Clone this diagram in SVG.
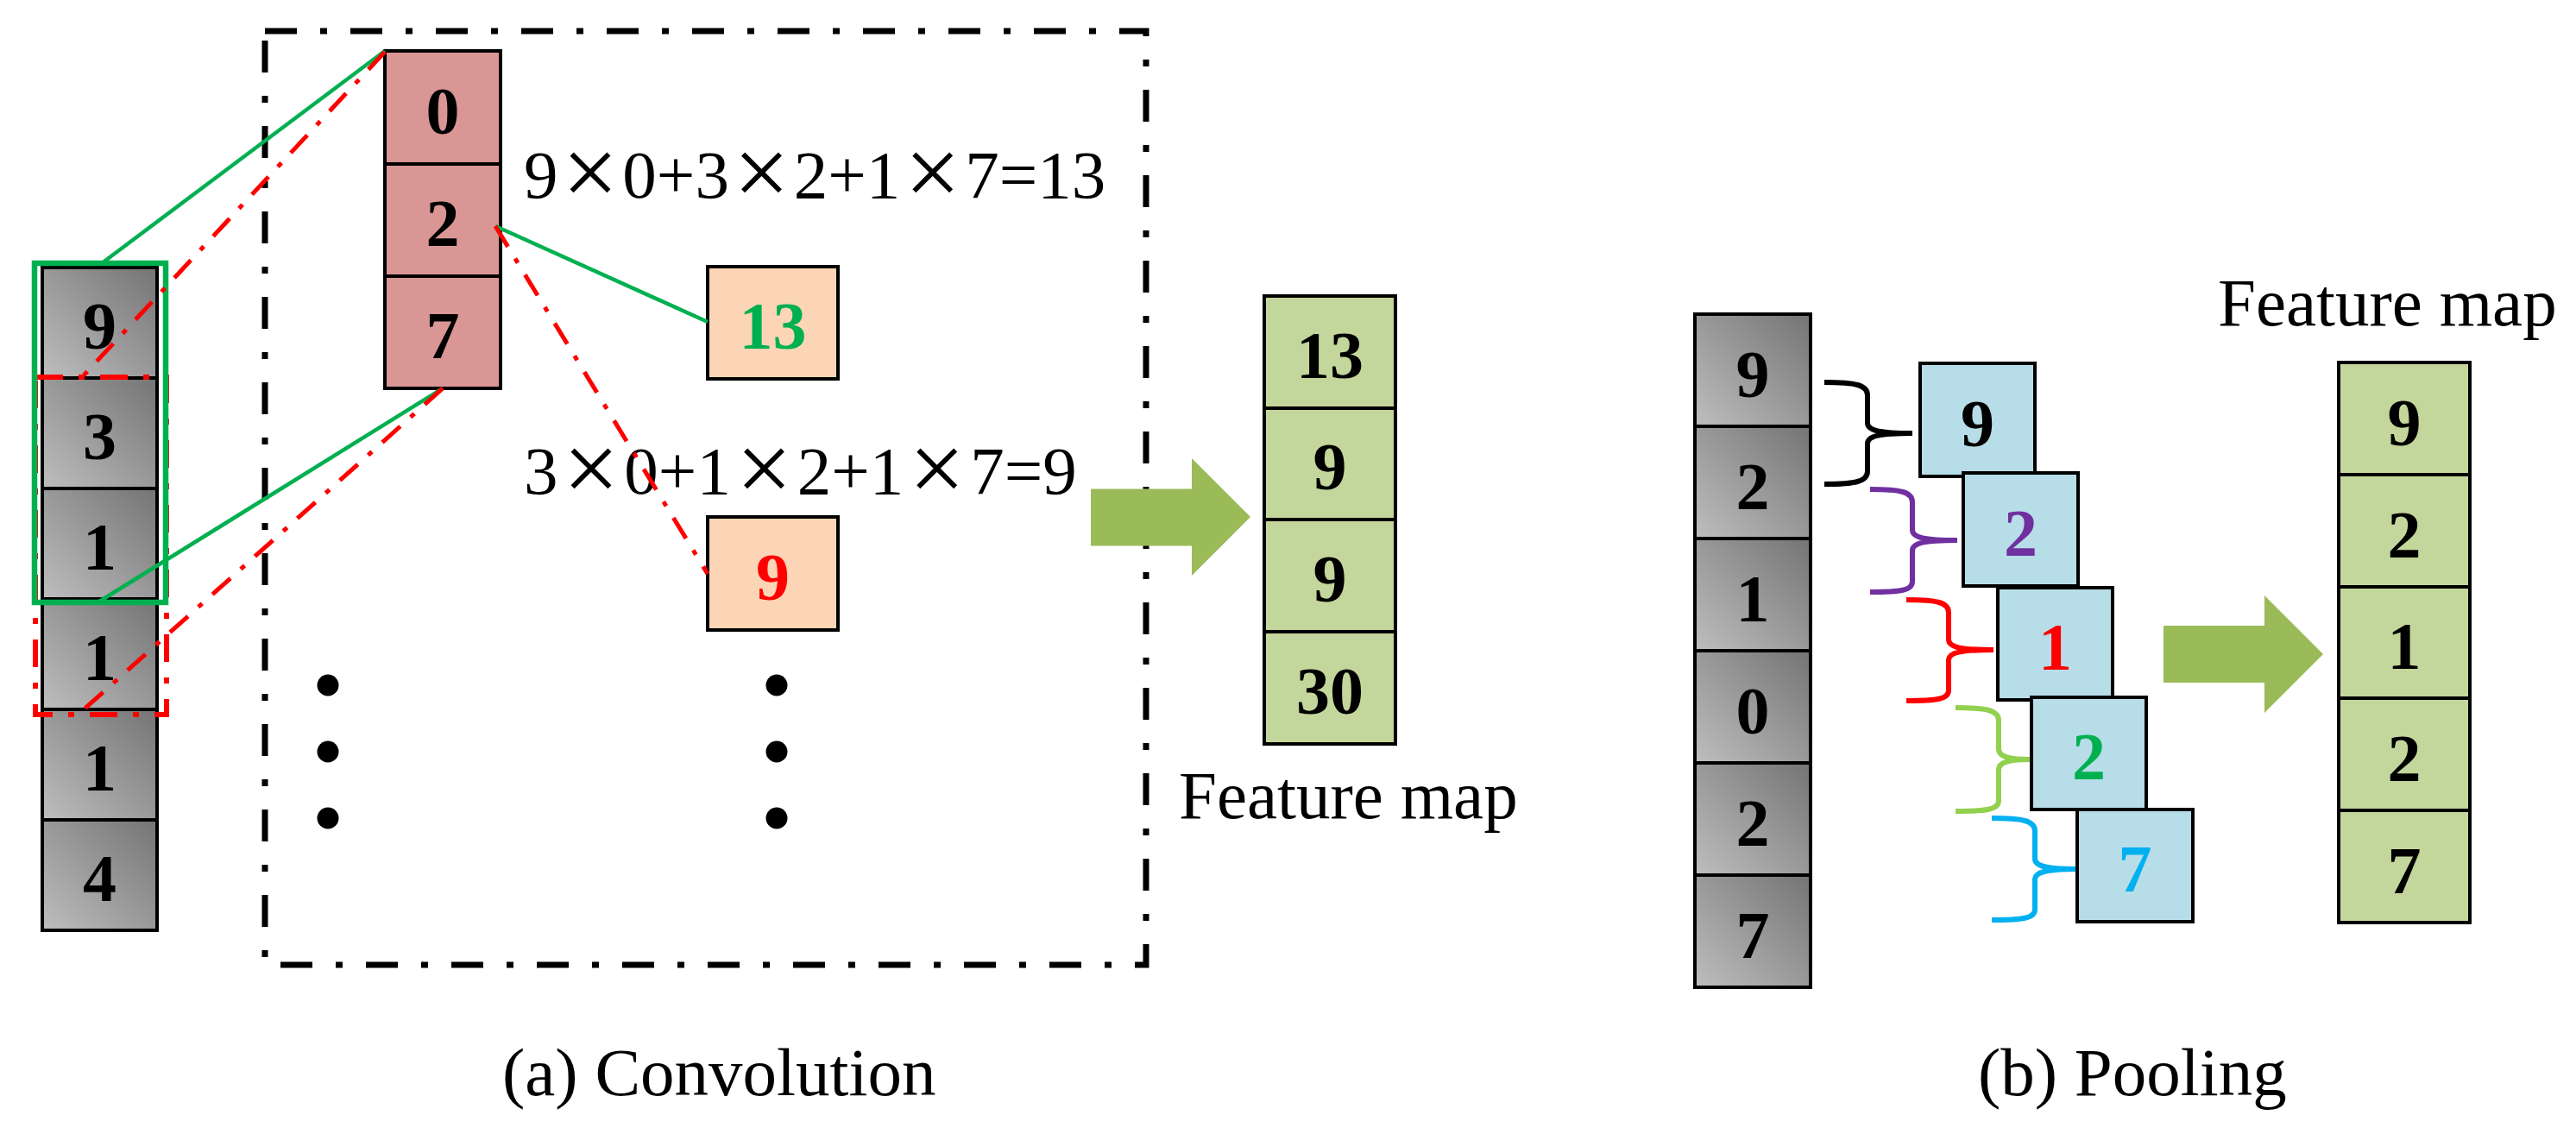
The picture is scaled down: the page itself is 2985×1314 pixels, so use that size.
<svg xmlns="http://www.w3.org/2000/svg" width="2985" height="1314" viewBox="0 0 2985 1314">
<defs>
<linearGradient id="gray" x1="0" y1="1" x2="1" y2="0">
<stop offset="0" stop-color="#BEBEBE"/>
<stop offset="1" stop-color="#747474"/>
</linearGradient>
</defs>
<style>
.cell{stroke:#000;stroke-width:4}
.g{fill:url(#gray)}
.pink{fill:#D99694}
.peach{fill:#FBD5B5}
.fm{fill:#C3D69B}
.blue{fill:#B7DDE8}
.num{font-family:"Liberation Serif","Times New Roman",serif;font-weight:bold;font-size:78px;text-anchor:middle}
.t{font-family:"Liberation Serif","Times New Roman",serif;font-size:79px;fill:#000}
.x{font-size:115px}
.gl{stroke:#00B050;stroke-width:4.5;fill:none}
.rl{stroke:#FF0000;stroke-width:5;fill:none;stroke-dasharray:28 16 6 16}
.brace{fill:none;stroke-width:6;stroke-linecap:butt;stroke-linejoin:round}
.arrow{fill:#9BBB59}
</style>

<rect id="conv-frame" x="307" y="36" width="1021" height="1082" fill="none" stroke="#000" stroke-width="7" stroke-dasharray="37 27 8 27"/>

<g id="input-conv">
<rect class="cell g" x="49" y="310" width="133" height="128"/>
<rect class="cell g" x="49" y="438" width="133" height="128"/>
<rect class="cell g" x="49" y="566" width="133" height="128"/>
<rect class="cell g" x="49" y="694" width="133" height="128"/>
<rect class="cell g" x="49" y="822" width="133" height="128"/>
<rect class="cell g" x="49" y="950" width="133" height="128"/>
<text class="num" x="115.5" y="404">9</text>
<text class="num" x="115.5" y="532">3</text>
<text class="num" x="115.5" y="660">1</text>
<text class="num" x="115.5" y="788">1</text>
<text class="num" x="115.5" y="916">1</text>
<text class="num" x="115.5" y="1044">4</text>
</g>

<g id="kernel">
<rect class="cell pink" x="446" y="59" width="134" height="131"/>
<rect class="cell pink" x="446" y="190" width="134" height="130"/>
<rect class="cell pink" x="446" y="320" width="134" height="130"/>
<text class="num" x="513" y="155">0</text>
<text class="num" x="513" y="285">2</text>
<text class="num" x="513" y="415">7</text>
</g>

<g id="out13">
<rect class="cell peach" x="820" y="309" width="151" height="130"/>
<text class="num" x="895.5" y="404" fill="#00B050">13</text>
</g>
<g id="out9">
<rect class="cell peach" x="820" y="599" width="151" height="131"/>
<text class="num" x="895.5" y="695" fill="#FF0000">9</text>
</g>

<g id="formulas">
<text class="t" x="607" y="229">9<tspan class="x" dx="5" dy="9">×</tspan><tspan dx="5" dy="-9">0+3</tspan><tspan class="x" dx="5" dy="9">×</tspan><tspan dx="5" dy="-9">2+1</tspan><tspan class="x" dx="5" dy="9">×</tspan><tspan dx="5" dy="-9">7=13</tspan></text>
<text class="t" x="607" y="572">3<tspan class="x" dx="6" dy="9">×</tspan><tspan dx="6" dy="-9">0+1</tspan><tspan class="x" dx="6" dy="9">×</tspan><tspan dx="6" dy="-9">2+1</tspan><tspan class="x" dx="6" dy="9">×</tspan><tspan dx="6" dy="-9">7=9</tspan></text>
</g>

<g id="ellipsis">
<circle cx="380" cy="794" r="12.5"/>
<circle cx="380" cy="871" r="12.5"/>
<circle cx="380" cy="948" r="12.5"/>
<circle cx="900" cy="794" r="12.5"/>
<circle cx="900" cy="871" r="12.5"/>
<circle cx="900" cy="948" r="12.5"/>
</g>

<g id="connectors">
<rect x="41" y="437" width="152" height="391" fill="none" stroke="#FF0000" stroke-width="6" stroke-dasharray="32 18 7 18"/>
<rect x="40" y="305" width="152" height="393" fill="none" stroke="#00B050" stroke-width="6.5"/>
<line class="gl" x1="118" y1="305" x2="446" y2="59"/>
<line class="gl" x1="115" y1="697" x2="513" y2="450"/>
<line class="gl" x1="574" y1="262" x2="820" y2="373"/>
<line class="rl" x1="446" y1="60" x2="95" y2="437"/>
<line class="rl" x1="513" y1="450" x2="95" y2="824"/>
<line class="rl" x1="574" y1="262" x2="820" y2="665"/>
<polygon class="arrow" points="1264,566.5 1381,566.5 1381,531 1449,599 1381,667 1381,632.5 1264,632.5"/>
<polygon class="arrow" points="2507,725 2624,725 2624,690 2692,758 2624,826 2624,791 2507,791"/>
<path class="brace" stroke="#000" d="M2114,443 C2150,443 2164,446 2164,458 L2164,490 C2164,499 2178,502 2216,502 M2216,502 C2178,502 2164,505 2164,514 L2164,546 C2164,558 2150,561 2114,561"/>
<path class="brace" stroke="#7030A0" d="M2167,567 C2203,567 2216,570 2216,582 L2216,614 C2216,623 2230,626 2268,626 M2268,626 C2230,626 2216,629 2216,638 L2216,674 C2216,684 2203,686 2167,686"/>
<path class="brace" stroke="#FF0000" d="M2209,695 C2245,695 2258,698 2258,710 L2258,741 C2258,750 2272,753 2310,753 M2310,753 C2272,753 2258,756 2258,765 L2258,800 C2258,810 2245,812 2209,812"/>
<path class="brace" stroke="#92D050" d="M2266,820 C2302,820 2316,823 2316,835 L2316,868 C2316,877 2328,880 2352,880 M2352,880 C2328,880 2316,883 2316,892 L2316,928 C2316,938 2302,940 2266,940"/>
<path class="brace" stroke="#00B0F0" d="M2308,948 C2344,948 2358,951 2358,963 L2358,995 C2358,1004 2372,1007 2406,1007 M2406,1007 C2372,1007 2358,1010 2358,1019 L2358,1054 C2358,1064 2344,1066 2308,1066"/>
</g>

<g id="fm-conv">
<rect class="cell fm" x="1465" y="343" width="152" height="130"/>
<rect class="cell fm" x="1465" y="473" width="152" height="129"/>
<rect class="cell fm" x="1465" y="602" width="152" height="130"/>
<rect class="cell fm" x="1465" y="732" width="152" height="130"/>
<text class="num" x="1541" y="438">13</text>
<text class="num" x="1541" y="567">9</text>
<text class="num" x="1541" y="697">9</text>
<text class="num" x="1541" y="827">30</text>
<text class="t" x="1366" y="948">Feature map</text>
</g>

<g id="input-pool">
<rect class="cell g" x="1964" y="364" width="134" height="130"/>
<rect class="cell g" x="1964" y="494" width="134" height="130"/>
<rect class="cell g" x="1964" y="624" width="134" height="130"/>
<rect class="cell g" x="1964" y="754" width="134" height="130"/>
<rect class="cell g" x="1964" y="884" width="134" height="130"/>
<rect class="cell g" x="1964" y="1014" width="134" height="130"/>
<text class="num" x="2031" y="460">9</text>
<text class="num" x="2031" y="590">2</text>
<text class="num" x="2031" y="720">1</text>
<text class="num" x="2031" y="850">0</text>
<text class="num" x="2031" y="980">2</text>
<text class="num" x="2031" y="1110">7</text>
</g>

<g id="pool-9">
<rect class="cell blue" x="2225" y="421" width="133" height="131"/>
<text class="num" x="2291.5" y="517">9</text>
</g>
<g id="pool-2a">
<rect class="cell blue" x="2275" y="548" width="133" height="131"/>
<text class="num" x="2341.5" y="644" fill="#7030A0">2</text>
</g>
<g id="pool-1">
<rect class="cell blue" x="2315" y="681" width="133" height="130"/>
<text class="num" x="2381.5" y="776" fill="#FF0000">1</text>
</g>
<g id="pool-2b">
<rect class="cell blue" x="2354" y="808" width="133" height="130"/>
<text class="num" x="2420.5" y="903" fill="#00B050">2</text>
</g>
<g id="pool-7">
<rect class="cell blue" x="2407" y="938" width="134" height="130"/>
<text class="num" x="2474" y="1033" fill="#00B0F0">7</text>
</g>

<g id="fm-pool">
<text class="t" x="2570" y="377">Feature map</text>
<rect class="cell fm" x="2710" y="420" width="152" height="130"/>
<rect class="cell fm" x="2710" y="550" width="152" height="130"/>
<rect class="cell fm" x="2710" y="680" width="152" height="129"/>
<rect class="cell fm" x="2710" y="809" width="152" height="130"/>
<rect class="cell fm" x="2710" y="939" width="152" height="130"/>
<text class="num" x="2786" y="516">9</text>
<text class="num" x="2786" y="646">2</text>
<text class="num" x="2786" y="775">1</text>
<text class="num" x="2786" y="905">2</text>
<text class="num" x="2786" y="1035">7</text>
</g>

<g id="captions">
<text class="t" x="582" y="1269">(a) Convolution</text>
<text class="t" x="2292" y="1269">(b) Pooling</text>
</g>
</svg>
